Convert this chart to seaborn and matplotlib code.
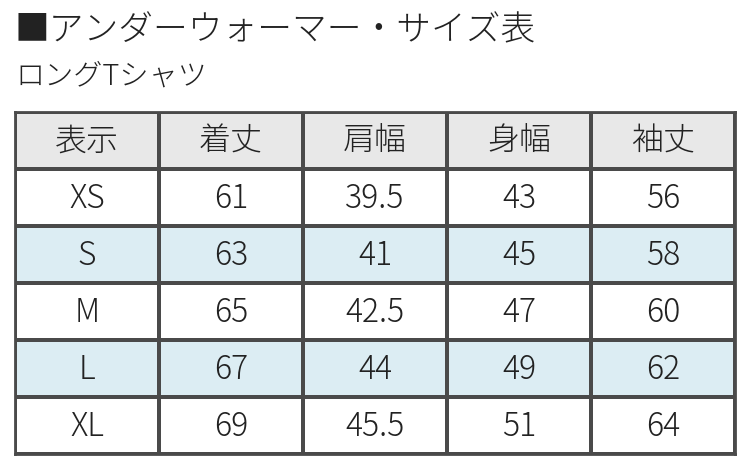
import matplotlib
matplotlib.use("Agg")
import matplotlib.pyplot as plt
import numpy as np
import seaborn as sns
from matplotlib.colors import ListedColormap

HEADERS = ["表示", "着丈", "肩幅", "身幅", "袖丈"]
SIZES = ["XS", "S", "M", "L", "XL"]
LENGTH = ["61", "63", "65", "67", "69"]
SHOULDER = ["39.5", "41", "42.5", "44", "45.5"]
CHEST = ["43", "45", "47", "49", "51"]
SLEEVE = ["56", "58", "60", "62", "64"]
ROW_SHADE = [0, 1, 0, 1, 0]  # 1 = blue band

sns.set_theme(style="white")
plt.rcParams["font.family"] = ["Noto Sans CJK JP", "DejaVu Sans"]

labels = [HEADERS] + [list(r) for r in zip(SIZES, LENGTH, SHOULDER, CHEST, SLEEVE)]
shade = np.array([[2] * 5] + [[s] * 5 for s in ROW_SHADE])
cmap = ListedColormap(["#ffffff", "#dcedf3", "#e8e8e8"])

fig = plt.figure(figsize=(7.5, 4.6), dpi=100)
ax = fig.add_axes([0.02, 0.011, 0.96, 0.743])
sns.heatmap(shade, cmap=cmap, vmin=0, vmax=2, cbar=False, annot=np.array(labels),
            fmt="", linewidths=1.5, linecolor="#4a4a4a",
            annot_kws={"fontsize": 23, "color": "#222222", "fontweight": "light"}, ax=ax)
ax.set_xticks([])
ax.set_yticks([])
for s in ax.spines.values():
    s.set_visible(True)
    s.set_color("#4a4a4a")
    s.set_linewidth(2)

fig.text(0.02, 0.935, "■アンダーウォーマー・サイズ表", fontsize=25, color="#222222",
         va="center", fontweight="light")
fig.text(0.02, 0.835, "ロングTシャツ", fontsize=21, color="#222222", va="center",
         fontweight="light")

fig.savefig("out.png", dpi=100)
